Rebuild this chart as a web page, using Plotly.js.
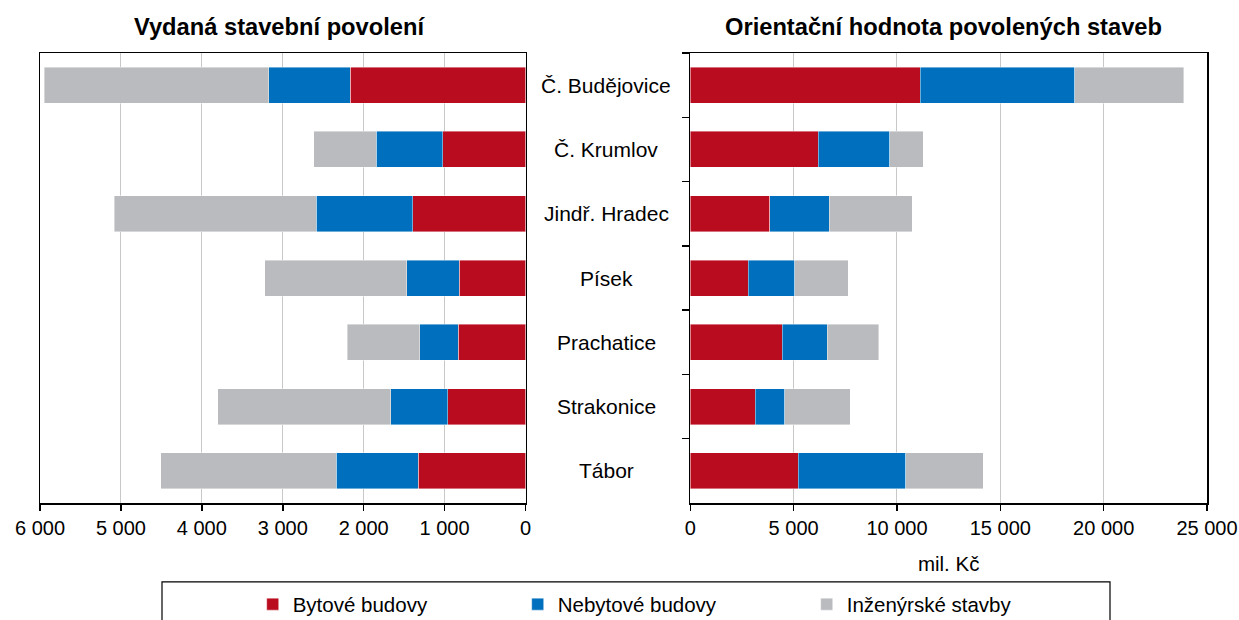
<!DOCTYPE html>
<html>
<head>
<meta charset="utf-8">
<script src="https://cdn.plot.ly/plotly-3.0.1.min.js"></script>
<style>
  html, body { margin: 0; padding: 0; background: #fff; }
  #chart { width: 1239px; height: 620px; }
</style>
</head>
<body>
<div id="chart"></div>
<script>
// ---- data ----
const categories = ['Č. Budějovice', 'Č. Krumlov', 'Jindř. Hradec', 'Písek', 'Prachatice', 'Strakonice', 'Tábor'];
const seriesNames = ['Bytové budovy', 'Nebytové budovy', 'Inženýrské stavby'];

// Vydaná stavební povolení (počet)
const permitsResidential    = [2167, 1024, 1392,  819,  831,  963, 1326];
const permitsNonResidential = [1006,  822, 1191,  647,  474,  701, 1015];
const permitsCivil          = [2772,  771, 2499, 1757,  895, 2137, 2169];

// Orientační hodnota povolených staveb (mil. Kč)
const valueResidential      = [11130, 6190, 3836, 2793, 4453, 3135, 5225];
const valueNonResidential   = [ 7474, 3464, 2884, 2253, 2171, 1447, 5209];
const valueCivil            = [ 5270, 1624, 4011, 2602, 2492, 3151, 3746];

const leftTitle = 'Vydaná stavební povolení';
const rightTitle = 'Orientační hodnota povolených staveb';
const rightUnit = 'mil. Kč';
const leftTicks = [0, 1000, 2000, 3000, 4000, 5000, 6000];
const rightTicks = [0, 5000, 10000, 15000, 20000, 25000];

// ---- styling ----
const colors = ['#BA0C1F', '#0070BE', '#B9BBBE'];
const FONT = 'Liberation Sans, Arial, sans-serif';
const legendIds = ['legend', 'legend2', 'legend3'];
const legendPx = [252.7, 517.7, 806.7];

const leftSeries = [permitsResidential, permitsNonResidential, permitsCivil];
const rightSeries = [valueResidential, valueNonResidential, valueCivil];

const traces = [];
leftSeries.forEach((vals, i) => {
  traces.push({
    type: 'bar', orientation: 'h',
    x: vals, y: categories,
    xaxis: 'x', yaxis: 'y',
    name: seriesNames[i], legendgroup: 'g' + i, legend: legendIds[i],
    marker: { color: colors[i], line: { width: 0.6, color: 'rgba(255,255,255,0.7)' } },
    showlegend: true
  });
});
rightSeries.forEach((vals, i) => {
  traces.push({
    type: 'bar', orientation: 'h',
    x: vals, y: categories,
    xaxis: 'x2', yaxis: 'y2',
    name: seriesNames[i], legendgroup: 'g' + i, legend: legendIds[i],
    marker: { color: colors[i], line: { width: 0.6, color: 'rgba(255,255,255,0.7)' } },
    showlegend: false
  });
});

// geometry helpers (pixel -> paper)
const M = { l: 40, r: 32, t: 52.7, b: 116.7 };
const W = 1239, H = 620;
const pw = W - M.l - M.r, ph = H - M.t - M.b;
const px = X => (X - M.l) / pw;
const py = Y => (H - M.b - Y) / ph;

const annotations = categories.map(c => ({
  text: c, x: px(606), xref: 'paper', y: c, yref: 'y2',
  xanchor: 'center', yanchor: 'middle', showarrow: false,
  font: { family: FONT, size: 21, color: '#000' }
}));
annotations.push({
  text: '<b>' + leftTitle + '</b>', x: px(279), y: py(27), xref: 'paper', yref: 'paper',
  xanchor: 'center', yanchor: 'middle', showarrow: false,
  font: { family: FONT, size: 23.7, color: '#000' }
});
annotations.push({
  text: '<b>' + rightTitle + '</b>', x: px(943.5), y: py(27), xref: 'paper', yref: 'paper',
  xanchor: 'center', yanchor: 'middle', showarrow: false,
  font: { family: FONT, size: 23.7, color: '#000' }
});

const xCommon = {
  showline: true, linecolor: '#000', linewidth: 1.5, mirror: true,
  ticks: 'outside', ticklen: 6, tickwidth: 1.5, tickcolor: '#000',
  showgrid: true, gridcolor: '#C8C8C8', gridwidth: 1,
  zeroline: false, separatethousands: true, exponentformat: 'none', tickformat: ',d',
  ticklabeloverflow: 'allow',
  tickfont: { family: FONT, size: 20, color: '#000' },
  automargin: false, fixedrange: true
};
const yCommon = {
  type: 'category', autorange: 'reversed',
  showline: true, linecolor: '#000', linewidth: 1.5, mirror: true,
  showgrid: false, zeroline: false, showticklabels: false,
  automargin: false, fixedrange: true
};

const layout = {
  width: W, height: H,
  margin: Object.assign({ autoexpand: false }, M),
  paper_bgcolor: '#fff', plot_bgcolor: '#fff',
  separators: ', ',
  font: { family: FONT, size: 20, color: '#000' },
  barmode: 'stack', bargap: 0.44,
  xaxis: Object.assign({}, xCommon, {
    domain: [0, px(525.5)], anchor: 'y',
    range: [6000, 0], tickvals: leftTicks
  }),
  xaxis2: Object.assign({}, xCommon, {
    domain: [px(690.3), 1], anchor: 'y2',
    range: [0, 25000], tickvals: rightTicks,
    title: { text: rightUnit, standoff: 19, font: { family: FONT, size: 20.5, color: '#000' } }
  }),
  yaxis: Object.assign({}, yCommon, { anchor: 'x', ticks: '' }),
  yaxis2: Object.assign({}, yCommon, {
    anchor: 'x2', ticks: 'outside', tickson: 'boundaries',
    ticklen: 7, tickwidth: 1.5, tickcolor: '#000'
  }),
  annotations: annotations,
  shapes: [{
    type: 'rect', xref: 'paper', yref: 'paper',
    x0: px(162), x1: px(1110), y0: py(640), y1: py(582.3),
    line: { color: '#000', width: 1.2 }, fillcolor: 'rgba(0,0,0,0)'
  }],
  showlegend: true
};
legendIds.forEach((id, i) => {
  layout[id] = {
    orientation: 'h',
    xref: 'container', yref: 'container',
    x: legendPx[i] / W, xanchor: 'left',
    y: 1 - 604.3 / H, yanchor: 'middle',
    bgcolor: 'rgba(0,0,0,0)', borderwidth: 0,
    font: { family: FONT, size: 20.5, color: '#000' }
  };
});

Plotly.newPlot('chart', traces, layout, { displayModeBar: false, staticPlot: true });
</script>
</body>
</html>
